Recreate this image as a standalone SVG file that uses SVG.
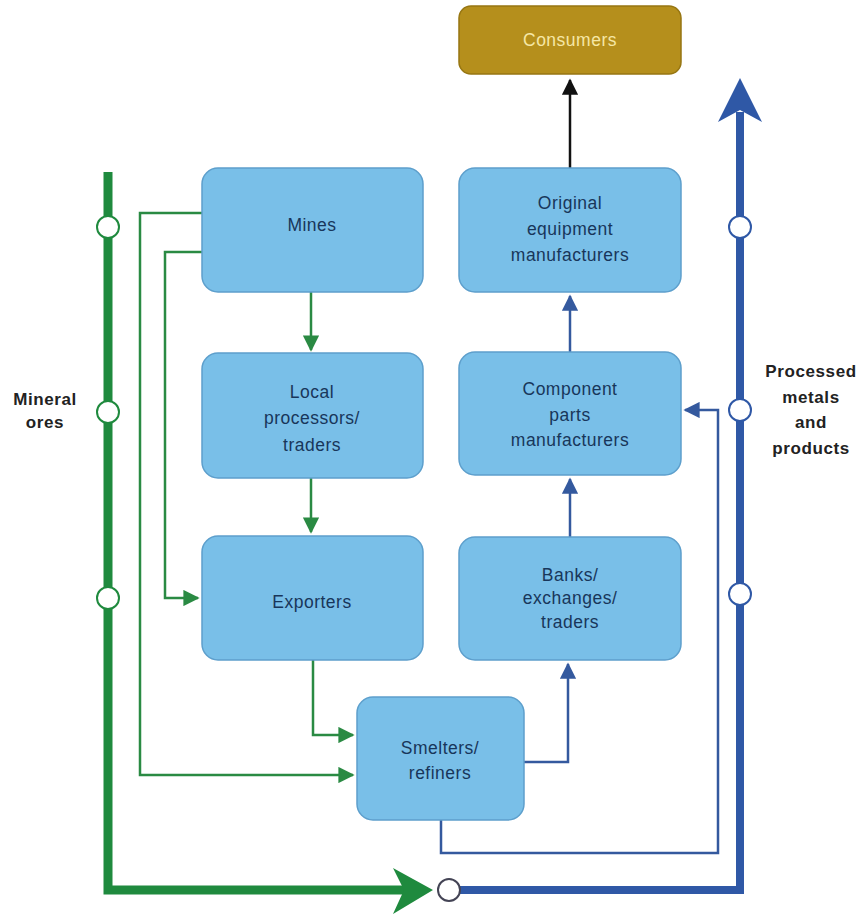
<svg xmlns="http://www.w3.org/2000/svg" width="864" height="918" viewBox="0 0 864 918">
<defs>
<style>
.box{fill:#79bfe8;stroke:#5d9fcc;stroke-width:1.5}
.t{font-family:"Liberation Sans",Arial,sans-serif;font-size:17.5px;fill:#18365a;text-anchor:middle;letter-spacing:0.5px}
.lab{font-family:"Liberation Sans",Arial,sans-serif;font-size:17px;font-weight:bold;fill:#222;text-anchor:middle;letter-spacing:0.6px}
.g{fill:none;stroke:#2a8a43;stroke-width:2.5}
.b{fill:none;stroke:#34599e;stroke-width:2.5}
.gb{fill:none;stroke:#1f8a3e;stroke-width:9}
.bb{fill:none;stroke:#2f58a6;stroke-width:8}
.cg{fill:#fff;stroke:#1f8a3e;stroke-width:2}
.cb{fill:#fff;stroke:#2f58a6;stroke-width:2}
</style>
<marker id="ag" viewBox="0 0 10 10" refX="9" refY="5" markerWidth="7" markerHeight="6.5" markerUnits="strokeWidth" orient="auto"><path d="M0,0 L10,5 L0,10 Z" fill="#2a8a43"/></marker>
<marker id="ab" viewBox="0 0 10 10" refX="9" refY="5" markerWidth="7" markerHeight="6.5" markerUnits="strokeWidth" orient="auto"><path d="M0,0 L10,5 L0,10 Z" fill="#34599e"/></marker>
<marker id="ak" viewBox="0 0 10 10" refX="9" refY="5" markerWidth="7" markerHeight="6.5" markerUnits="strokeWidth" orient="auto"><path d="M0,0 L10,5 L0,10 Z" fill="#111"/></marker>
</defs>
<rect width="864" height="918" fill="#fff"/>
<g id="connectors">
<path class="gb" d="M108,172 V890 H410"/>
<path d="M393,868 L433,890 L393,914 L404,890 Z" fill="#1f8a3e"/>
<path class="bb" d="M460,890 H740 V112"/>
<path d="M740,78 L762,122 L740,110 L718,122 Z" fill="#2f58a6"/>
<path class="g" d="M202,213 H140 V775 H353" marker-end="url(#ag)"/>
<path class="g" d="M202,252 H165 V598 H198" marker-end="url(#ag)"/>
<path class="g" d="M311,292 V350" marker-end="url(#ag)"/>
<path class="g" d="M311,478 V532" marker-end="url(#ag)"/>
<path class="g" d="M313,660 V735 H353" marker-end="url(#ag)"/>
<path class="b" d="M524,762 H568 V664" marker-end="url(#ab)"/>
<path class="b" d="M570,537 V479" marker-end="url(#ab)"/>
<path class="b" d="M570,352 V296" marker-end="url(#ab)"/>
<path class="b" d="M441,820 V853 H718 V410 H685" marker-end="url(#ab)"/>
<path fill="none" stroke="#111" stroke-width="2.5" d="M570,168 V80" marker-end="url(#ak)"/>
<circle class="cg" cx="108" cy="227" r="11"/>
<circle class="cg" cx="108" cy="412" r="11"/>
<circle class="cg" cx="108" cy="598" r="11"/>
<circle class="cb" cx="740" cy="227" r="11"/>
<circle class="cb" cx="740" cy="410" r="11"/>
<circle class="cb" cx="740" cy="594" r="11"/>
<circle fill="#fff" stroke="#445" stroke-width="2" cx="449" cy="890" r="11"/>
</g>
<g id="consumers"><rect x="459" y="6" width="222" height="68" rx="12" fill="#b58f1c" stroke="#977612" stroke-width="1.5"/><text class="t" x="570" y="46" style="fill:#f5e7a6">Consumers</text></g>
<g id="mines"><rect class="box" x="202" y="168" width="221" height="124" rx="16"/><text class="t" x="312" y="231">Mines</text></g>
<g id="local"><rect class="box" x="202" y="353" width="221" height="125" rx="16"/><text class="t" x="312" y="398">Local</text><text class="t" x="312" y="424">processors/</text><text class="t" x="312" y="451">traders</text></g>
<g id="exporters"><rect class="box" x="202" y="536" width="221" height="124" rx="16"/><text class="t" x="312" y="608">Exporters</text></g>
<g id="smelters"><rect class="box" x="357" y="697" width="167" height="123" rx="16"/><text class="t" x="440" y="754">Smelters/</text><text class="t" x="440" y="779">refiners</text></g>
<g id="oem"><rect class="box" x="459" y="168" width="222" height="124" rx="16"/><text class="t" x="570" y="209">Original</text><text class="t" x="570" y="235">equipment</text><text class="t" x="570" y="261">manufacturers</text></g>
<g id="component"><rect class="box" x="459" y="352" width="222" height="123" rx="16"/><text class="t" x="570" y="395">Component</text><text class="t" x="570" y="421">parts</text><text class="t" x="570" y="446">manufacturers</text></g>
<g id="banks"><rect class="box" x="459" y="537" width="222" height="123" rx="16"/><text class="t" x="570" y="581">Banks/</text><text class="t" x="570" y="604">exchanges/</text><text class="t" x="570" y="628">traders</text></g>
<g id="mineral-ores"><text class="lab" x="45" y="405">Mineral</text><text class="lab" x="45" y="428">ores</text></g>
<g id="processed"><text class="lab" x="811" y="377">Processed</text><text class="lab" x="811" y="403">metals</text><text class="lab" x="811" y="428">and</text><text class="lab" x="811" y="454">products</text></g>
</svg>
